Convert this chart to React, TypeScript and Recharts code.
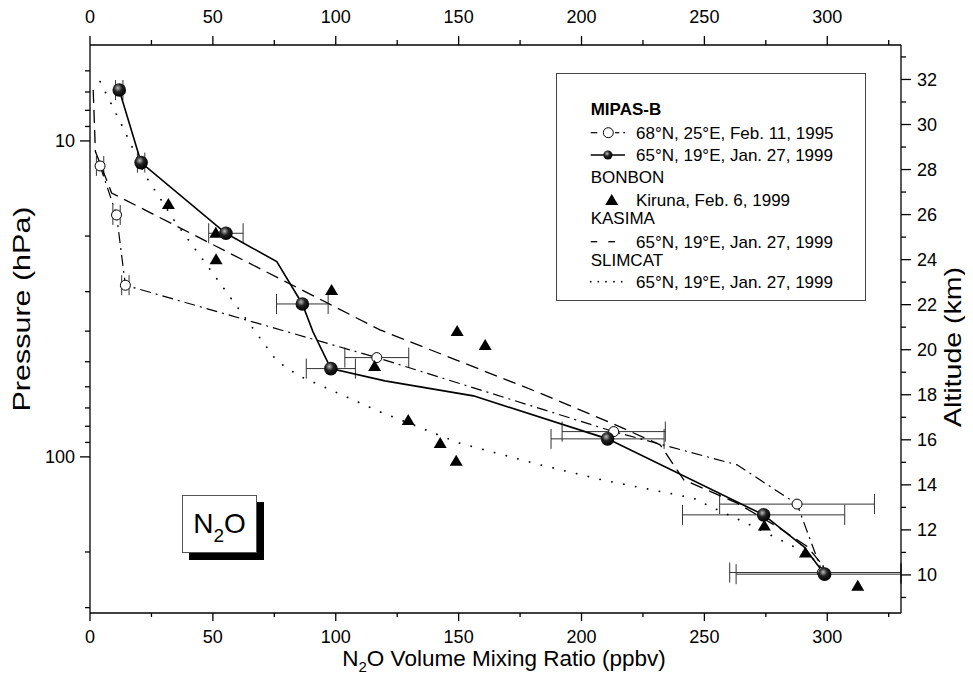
import React from "react";
import { ComposedChart, Scatter, XAxis, YAxis, ErrorBar } from "recharts";

const FONT = "'Liberation Sans', Arial, Helvetica, sans-serif";

// MIPAS-B, 65N 19E, Jan. 27 1999: retrieved profile (line) and measured levels (markers)
const mipas99LineX = [11.9, 20.8, 55.3, 76, 86.4, 90.7, 98, 120, 156, 210.6, 274.1, 290.4, 298.9];
const mipas99LineP = [6.9, 11.71, 19.6, 24.1, 32.81, 40.13, 52.55, 57.46, 64.1, 87.7, 152.6, 192.2, 235.1];
const mipas99X = [11.9, 20.8, 55.3, 86.4, 98, 210.6, 274.1, 298.9];
const mipas99P = [6.9, 11.71, 19.6, 32.81, 52.55, 87.7, 152.6, 235.1];
// [minus, plus]; the lowest bar runs off the right edge of the frame
const mipas99Err = [[1.5, 1.5], [1.5, 1.5], [7, 7], [10.5, 10.5], [10, 10], [23, 23], [33, 33], [36, 31.1]];

// MIPAS-B, 68N 25E, Feb. 11 1995
const mipas95LineX = [4.1, 10.8, 14.4, 116.7, 213.1, 263.3, 287.7, 298];
const mipas95LineP = [12.0, 17.15, 28.62, 48.5, 83.18, 106.0, 141.1, 232.3];
const mipas95X = [4.1, 10.8, 14.4, 116.7, 213.1, 287.7, 298];
const mipas95P = [12.0, 17.15, 28.62, 48.5, 83.18, 141.1, 232.3];
const mipas95Err = [[1.5, 1.5], [1.5, 1.5], [1.5, 1.5], [13, 13], [21, 21], [31.5, 31.5], [37.7, 32]];

// BONBON, Kiruna, Feb. 6 1999
const bonbonX = [31.9, 51.2, 51.3, 98.3, 149.4, 160.8, 115.8, 129.5, 142.5, 149.0, 274.4, 291.1, 312.4];
const bonbonP = [15.83, 19.51, 23.68, 29.62, 39.92, 44.22, 51.52, 76.37, 90.3, 102.9, 165.0, 200.9, 256.0];

// KASIMA model
const kasimaX = [1.3, 2.2, 8.8, 118, 183.2, 213, 232, 241.6, 263.3, 279.6, 291.8, 298.6];
const kasimaP = [6.9, 10.8, 14.61, 39.63, 62.86, 78.63, 91.62, 118.2, 140.1, 166.2, 192.2, 222.5];

// SLIMCAT model
const slimcatX = [4.1, 13.6, 22.4, 34.6, 48.2, 62, 76, 84.8, 117.8, 150, 183.2, 208.3, 245.6, 251, 270.1, 289, 298.6];
const slimcatP = [6.49, 9.12, 12.81, 18.01, 25.11, 35.27, 49.68, 55.29, 71.89, 90.3, 106.0, 118.2, 135.1, 141.9, 166.2, 197.0, 222.5];

// axis ticks
const xMajor = [0, 50, 100, 150, 200, 250, 300];
const xMinor = [25, 75, 125, 175, 225, 275, 325];
const pMajor = [10, 100];
const pMinor = [6, 7, 8, 9, 20, 30, 40, 50, 60, 70, 80, 90, 200, 300];
const altMajor = [10, 12, 14, 16, 18, 20, 22, 24, 26, 28, 30, 32];
const altMinor = [9, 11, 13, 15, 17, 19, 21, 23, 25, 27, 29, 31, 33];

const zip = (xs: number[], ps: number[], es?: number[][]) =>
  xs.map((x, i) => ({ x, p: ps[i], e: es ? es[i] : [0, 0] }));

const mipas99Line = zip(mipas99LineX, mipas99LineP);
const mipas99Pts = zip(mipas99X, mipas99P, mipas99Err);
const mipas95Line = zip(mipas95LineX, mipas95LineP);
const mipas95Pts = zip(mipas95X, mipas95P, mipas95Err);
const bonbon = zip(bonbonX, bonbonP);
const kasima = zip(kasimaX, kasimaP);
const slimcat = zip(slimcatX, slimcatP);

const Ball = (props: any) => (
  <circle cx={props.cx} cy={props.cy} r={6.8} fill="url(#ballGrad)" />
);
const OpenCircle = (props: any) => (
  <circle cx={props.cx} cy={props.cy} r={5} fill="#fff" stroke="#000" strokeWidth={1} />
);
const Tri = (props: any) => {
  const { cx, cy } = props;
  return <path d={`M${cx},${cy - 6} L${cx + 6.5},${cy + 5} L${cx - 6.5},${cy + 5} Z`} fill="#000" />;
};
const NoDot = () => <g />;

const tickStyle = { fontSize: 18, fontFamily: FONT, fill: "#000" };

const BottomTick = (props: any) => {
  const { x, y, payload } = props;
  const major = xMajor.includes(payload.value);
  return (
    <g>
      <line x1={x} x2={x} y1={y} y2={y + (major ? 8 : 4)} stroke="#000" strokeWidth={1.3} />
      {major && (
        <text x={x} y={y + 30} textAnchor="middle" style={tickStyle}>
          {payload.value}
        </text>
      )}
    </g>
  );
};

const TopTick = (props: any) => {
  const { x, y, payload } = props;
  const major = xMajor.includes(payload.value);
  return (
    <g>
      <line x1={x} x2={x} y1={y} y2={y - (major ? 9 : 5)} stroke="#000" strokeWidth={1.3} />
      {major && (
        <text x={x} y={y - 22} textAnchor="middle" style={tickStyle}>
          {payload.value}
        </text>
      )}
    </g>
  );
};

const LeftTick = (props: any) => {
  const { x, y, payload } = props;
  const major = pMajor.includes(payload.value);
  return (
    <g>
      <line x1={x} x2={x - (major ? 10 : 5)} y1={y} y2={y} stroke="#000" strokeWidth={1.3} />
      {major && (
        <text x={x - 15} y={y + 6.5} textAnchor="end" style={tickStyle}>
          {payload.value}
        </text>
      )}
    </g>
  );
};

const RightTick = (props: any) => {
  const { x, y, payload } = props;
  const major = altMajor.includes(payload.value);
  return (
    <g>
      <line x1={x} x2={x + (major ? 10 : 5)} y1={y} y2={y} stroke="#000" strokeWidth={1.3} />
      {major && (
        <text x={x + 16} y={y + 6.5} textAnchor="start" style={tickStyle}>
          {payload.value}
        </text>
      )}
    </g>
  );
};

const titleStyle = { fontSize: 22.5, fontFamily: FONT, fill: "#000" };
const sideTitleStyle = { fontSize: 24, fontFamily: FONT, fill: "#000" };

const BottomTitle = () => (
  <text x={504} y={666} textAnchor="middle" style={titleStyle}>
    N<tspan dy={6} fontSize={15}>2</tspan>
    <tspan dy={-6}>O Volume Mixing Ratio (ppbv)</tspan>
  </text>
);
const LeftTitle = () => (
  <text
    x={30}
    y={309}
    textAnchor="middle"
    transform="rotate(-90 30 309)"
    textLength={205}
    lengthAdjust="spacingAndGlyphs"
    style={sideTitleStyle}
  >
    Pressure (hPa)
  </text>
);
const RightTitle = () => (
  <text
    x={961}
    y={347}
    textAnchor="middle"
    transform="rotate(-90 961 347)"
    textLength={160}
    lengthAdjust="spacingAndGlyphs"
    style={sideTitleStyle}
  >
    Altitude (km)
  </text>
);

const axisLine = { stroke: "#000", strokeWidth: 1.3 };

function LegendBox() {
  const t = { fontSize: 17, fontFamily: FONT, fill: "#000" };
  return (
    <div
      style={{
        position: "absolute",
        left: 556,
        top: 73,
        width: 310,
        height: 228,
        border: "1px solid #444",
        background: "#fff",
        boxSizing: "border-box",
      }}
    >
      <svg width={310} height={228} style={{ position: "absolute", left: -1, top: -1 }}>
        <defs>
          <radialGradient id="ballGradL" cx="40%" cy="35%" r="65%">
            <stop offset="0%" stopColor="#bbb" />
            <stop offset="45%" stopColor="#222" />
            <stop offset="100%" stopColor="#000" />
          </radialGradient>
        </defs>
        <text x={34.7} y={42} style={{ ...t, fontWeight: "bold" }}>MIPAS-B</text>
        {/* 1995 symbol */}
        <line x1={34.7} x2={41.3} y1={59.7} y2={59.7} stroke="#000" strokeWidth={1.2} />
        <circle cx={52.3} cy={59.7} r={5} fill="#fff" stroke="#000" />
        <line x1={59} x2={63.3} y1={59.7} y2={59.7} stroke="#000" strokeWidth={1.2} />
        <line x1={67.3} x2={69} y1={59.7} y2={59.7} stroke="#000" strokeWidth={1.2} />
        <text x={80} y={65.7} style={t}>68°N, 25°E, Feb. 11, 1995</text>
        {/* 1999 symbol */}
        <line x1={34.7} x2={69} y1={82} y2={82} stroke="#000" strokeWidth={1.6} />
        <circle cx={51.9} cy={82} r={4.6} fill="url(#ballGradL)" />
        <text x={80} y={88} style={t}>65°N, 19°E, Jan. 27, 1999</text>
        <text x={34.7} y={109.7} style={t}>BONBON</text>
        <path d="M55.7,121 L62.2,132 L49.2,132 Z" fill="#000" />
        <text x={80} y={133} style={t}>Kiruna, Feb. 6, 1999</text>
        <text x={34.7} y={151.3} style={t}>KASIMA</text>
        <line x1={34.7} x2={41.3} y1={168.7} y2={168.7} stroke="#000" strokeWidth={1.3} />
        <line x1={52.3} x2={59} y1={168.7} y2={168.7} stroke="#000" strokeWidth={1.3} />
        <text x={80} y={174.7} style={t}>65°N, 19°E, Jan. 27, 1999</text>
        <text x={34.7} y={193} style={t}>SLIMCAT</text>
        {[34.7, 42.3, 50, 58, 65.7].map((cx) => (
          <circle key={cx} cx={cx} cy={208.7} r={0.9} fill="#000" />
        ))}
        <text x={80} y={214.7} style={t}>65°N, 19°E, Jan. 27, 1999</text>
      </svg>
    </div>
  );
}

function SpeciesBox() {
  return (
    <div
      style={{
        position: "absolute",
        left: 182,
        top: 495,
        width: 75,
        height: 58,
        boxSizing: "border-box",
        border: "1px solid #555",
        background: "#fff",
        boxShadow: "7px 7px 0 #000",
        fontFamily: FONT,
        fontSize: 28,
        lineHeight: "56px",
        textAlign: "center",
      }}
    >
      N<span style={{ fontSize: 19, position: "relative", top: 9 }}>2</span>O
    </div>
  );
}

export default function App() {
  return (
    <div style={{ position: "relative", width: 973, height: 681, margin: -8, fontFamily: FONT, background: "#fff" }}>
      <ComposedChart width={973} height={681} margin={{ top: 0, right: 0, bottom: 0, left: 0 }}>
        <defs>
          <radialGradient id="ballGrad" cx="40%" cy="35%" r="65%">
            <stop offset="0%" stopColor="#bbb" />
            <stop offset="45%" stopColor="#222" />
            <stop offset="100%" stopColor="#000" />
          </radialGradient>
        </defs>
        <XAxis
          xAxisId="b"
          dataKey="x"
          type="number"
          orientation="bottom"
          domain={[0, 330]}
          allowDataOverflow
          ticks={[...xMajor, ...xMinor]}
          interval={0}
          height={68}
          tickSize={0}
          tickMargin={0}
          tickLine={false}
          axisLine={axisLine}
          tick={BottomTick}
          label={BottomTitle}
        />
        <XAxis
          xAxisId="t"
          dataKey="x"
          type="number"
          orientation="top"
          domain={[0, 330]}
          allowDataOverflow
          ticks={[...xMajor, ...xMinor]}
          interval={0}
          height={45}
          tickSize={0}
          tickMargin={0}
          tickLine={false}
          axisLine={axisLine}
          tick={TopTick}
        />
        <YAxis
          yAxisId="p"
          dataKey="p"
          type="number"
          scale="log"
          reversed
          orientation="left"
          domain={[4.97, 312]}
          allowDataOverflow
          ticks={[...pMajor, ...pMinor]}
          interval={0}
          width={90}
          tickSize={0}
          tickMargin={0}
          tickLine={false}
          axisLine={axisLine}
          tick={LeftTick}
          label={LeftTitle}
        />
        <YAxis
          yAxisId="a"
          type="number"
          orientation="right"
          domain={[8.31, 33.53]}
          allowDataOverflow
          ticks={[...altMajor, ...altMinor]}
          interval={0}
          width={72}
          tickSize={0}
          tickMargin={0}
          tickLine={false}
          axisLine={axisLine}
          tick={RightTick}
          label={RightTitle}
        />

        <Scatter
          data={slimcat}
          xAxisId="b"
          yAxisId="p"
          fill="none"
          shape={NoDot}
          line={{ stroke: "#000", strokeWidth: 1.8, strokeDasharray: "0.1 12", strokeLinecap: "round" }}
          lineType="joint"
          isAnimationActive={false}
        />
        <Scatter
          data={kasima}
          xAxisId="b"
          yAxisId="p"
          fill="none"
          shape={NoDot}
          line={{ stroke: "#000", strokeWidth: 1.3, strokeDasharray: "13 7" }}
          lineType="joint"
          isAnimationActive={false}
        />
        <Scatter
          data={mipas95Line}
          xAxisId="b"
          yAxisId="p"
          fill="none"
          shape={NoDot}
          line={{ stroke: "#000", strokeWidth: 1.2, strokeDasharray: "11 5 2 5" }}
          lineType="joint"
          isAnimationActive={false}
        />
        {/* same profile also bound to the top axis so that axis gets its scale */}
        <Scatter
          data={mipas99Line}
          xAxisId="t"
          yAxisId="p"
          fill="none"
          shape={NoDot}
          line={{ stroke: "#000", strokeWidth: 1.6 }}
          lineType="joint"
          isAnimationActive={false}
        />
        <Scatter data={mipas95Pts} xAxisId="b" yAxisId="p" fill="#fff" shape={OpenCircle} isAnimationActive={false}>
          <ErrorBar dataKey="e" direction="x" width={10} stroke="#333" strokeWidth={1} />
        </Scatter>
        <Scatter data={bonbon} xAxisId="b" yAxisId="p" fill="#000" shape={Tri} isAnimationActive={false} />
        <Scatter data={mipas99Pts} xAxisId="b" yAxisId="p" fill="#000" shape={Ball} isAnimationActive={false}>
          <ErrorBar dataKey="e" direction="x" width={10} stroke="#333" strokeWidth={1} />
        </Scatter>
      </ComposedChart>
      <LegendBox />
      <SpeciesBox />
    </div>
  );
}
